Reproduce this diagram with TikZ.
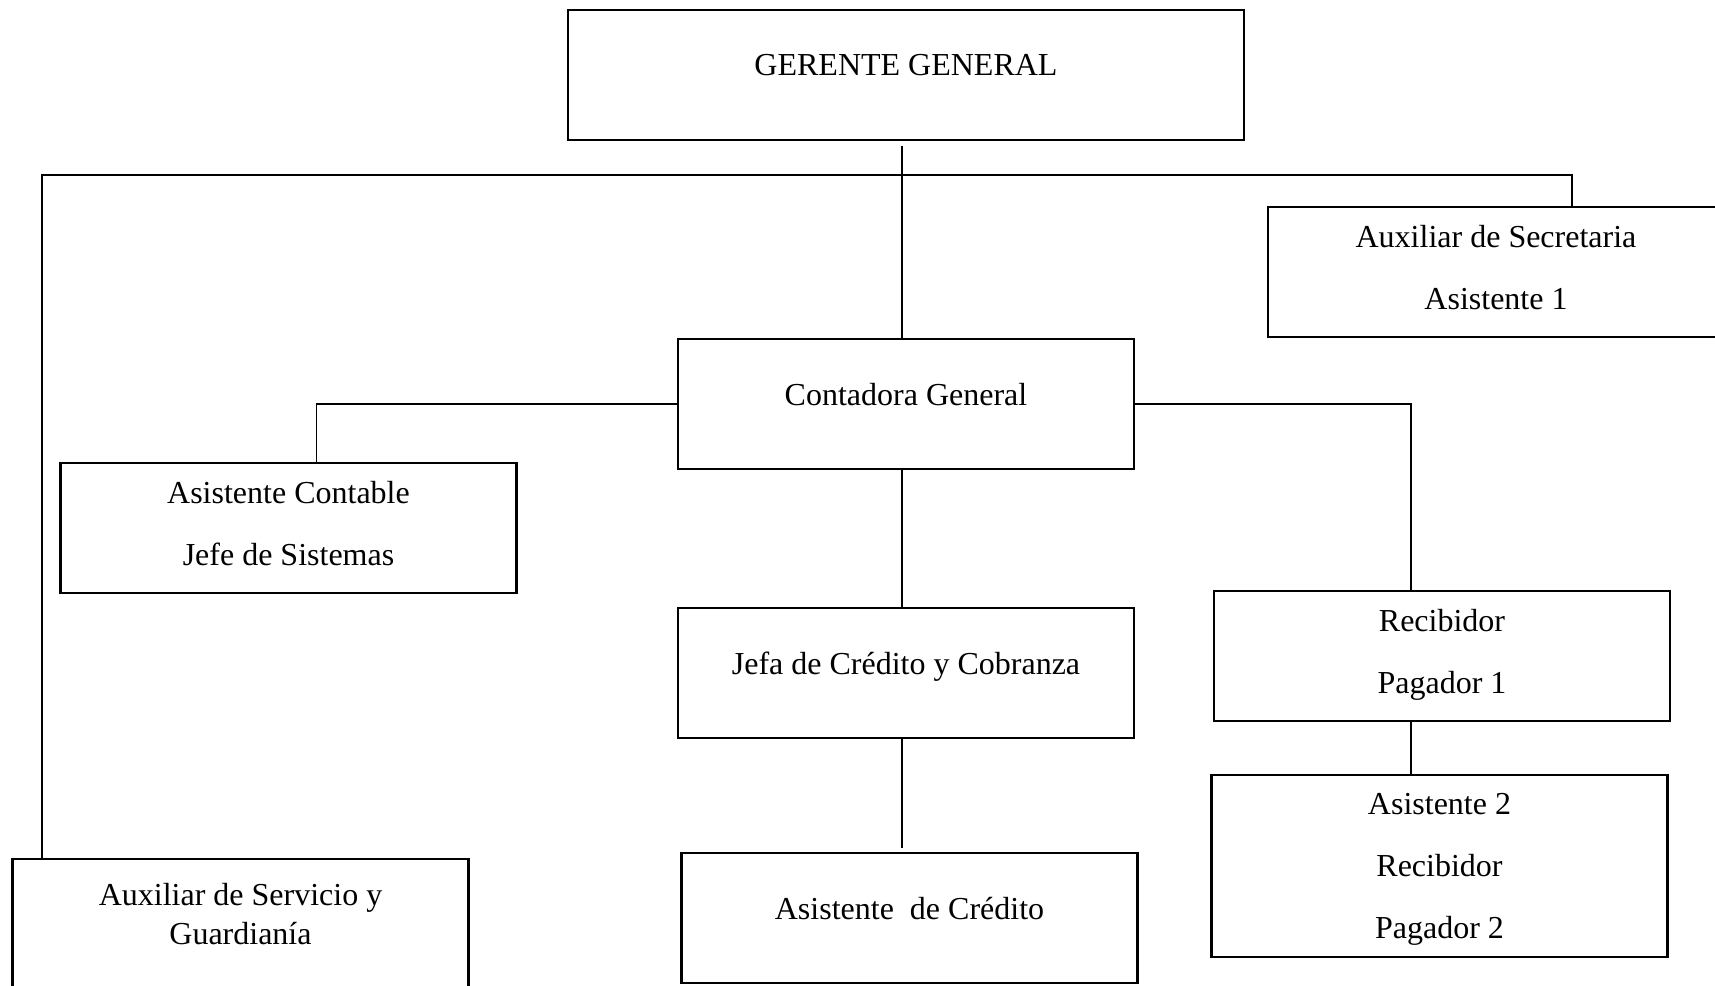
\documentclass[tikz,border=0pt]{standalone}
\usepackage{fontspec}
\setmainfont{Liberation Serif}

\tikzset{
  cargo/.style={draw, line width=1.1pt, minimum width=228pt, minimum height=65pt,
    align=center, inner sep=0pt, font=\fontsize{16}{31}\selectfont},
  enlace/.style={line width=0.6pt}
}

\begin{document}
\begin{tikzpicture}[x=0.5pt,y=-0.5pt]
\useasboundingbox (0,0) rectangle (1715,986);

% cargos
\node[cargo, minimum width=338pt, text depth=10pt] (gerente) at (906,75) {GERENTE GENERAL};
\node[cargo, text depth=5pt] (secretaria) at (1496,272) {Auxiliar de Secretaria\\Asistente 1};
\node[cargo, text depth=10pt] (contadora) at (906,404) {Contadora General};
\node[cargo, text depth=5pt] (contable) at (288.5,528) {Asistente Contable\\Jefe de Sistemas};
\node[cargo, text depth=10pt] (jefa) at (906,673) {Jefa de Crédito y Cobranza};
\node[cargo, text depth=10pt] (credito) at (909.5,918) {Asistente\ \ de Crédito};
\node[cargo, text depth=5pt] (recibidor) at (1442,656) {Recibidor\\Pagador 1};
\node[cargo, minimum height=91pt, text depth=0pt] (asistente) at (1439.5,866) {Asistente 2\\Recibidor\\Pagador 2};
\node[cargo, text depth=10.5pt, font=\fontsize{16}{19.5}\selectfont] (servicio) at (240.5,924) {Auxiliar de Servicio y\\Guardianía};

% enlaces
\coordinate (busL) at (42,175);
\coordinate (busR) at (1572,175);
\draw[enlace] ([shift={(-2pt,-2.5pt)}]gerente.south) -- ([xshift=-2pt]contadora.north);
\draw[enlace] (servicio.north -| busL) -- (busL) -- (busR) -- (secretaria.north -| busR);
\draw[enlace] (contadora.west) -| ([xshift=14pt]contable.north);
\draw[enlace] (contadora.east) -| ([xshift=-15.5pt]recibidor.north);
\draw[enlace] ([xshift=-15.5pt]recibidor.south) -- ([xshift=-15.5pt]recibidor.south |- asistente.north);
\draw[enlace] ([xshift=-2pt]contadora.south) -- ([xshift=-2pt]jefa.north);
\draw[enlace] ([xshift=-2pt]jefa.south) -- ([shift={(-2pt,2pt)}]jefa.south |- credito.north);
\end{tikzpicture}
\end{document}
